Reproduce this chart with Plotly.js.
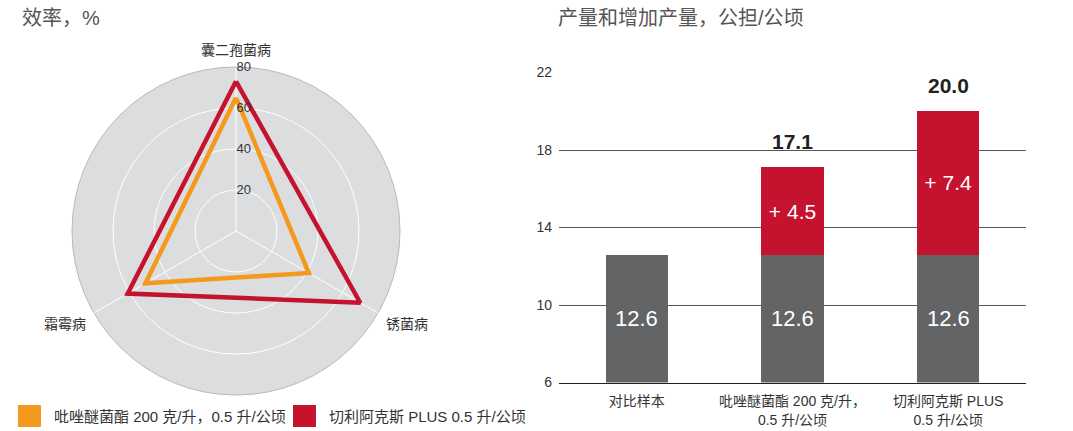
<!DOCTYPE html>
<html>
<head>
<meta charset="utf-8">
<script src="https://cdn.plot.ly/plotly-3.0.1.min.js"></script>
<style>
html,body{margin:0;padding:0;background:#fff;}
#chart{width:1073px;height:431px;}
</style>
</head>
<body>
<div id="chart"></div>
<script>
// ---- Radar data ----
const diseases = ["囊二孢菌病", "锈菌病", "霜霉病"];
const seriesNames = ["吡唑醚菌酯 200 克/升，0.5 升/公顷", "切利阿克斯 PLUS 0.5 升/公顷"];
const efficacyPyraclostrobin = [65, 41, 51];
const efficacyPlus = [73, 70, 61];
const radialTicks = [20, 40, 60, 80];

// ---- Bar data ----
const treatments = ["对比样本", "吡唑醚菌酯 200 克/升，<br>0.5 升/公顷", "切利阿克斯 PLUS<br>0.5 升/公顷"];
const baseYield = [12.6, 12.6, 12.6];
const addedYield = [null, 4.5, 7.4];
const yTicks = [6, 10, 14, 18, 22];

const FONT = "Liberation Sans, Arial, Noto Sans CJK SC, sans-serif";
const ORANGE = "#f5991e";
const RED = "#c5132f";
const GRAY = "#636466";
const yMin = 6, yMax = 22;

function closeLoop(a){ return a.concat([a[0]]); }

const traces = [
  {
    type: "scatterpolar", mode: "lines",
    r: closeLoop(efficacyPyraclostrobin), theta: closeLoop(diseases),
    line: {color: ORANGE, width: 4.5}, name: seriesNames[0], showlegend: false,
    hoverinfo: "skip"
  },
  {
    type: "scatterpolar", mode: "lines",
    r: closeLoop(efficacyPlus), theta: closeLoop(diseases),
    line: {color: RED, width: 4.5}, name: seriesNames[1], showlegend: false,
    hoverinfo: "skip"
  },
  {
    type: "bar", x: treatments, y: baseYield, marker: {color: GRAY},
    xaxis: "x", yaxis: "y", showlegend: false, hoverinfo: "skip"
  },
  {
    type: "bar", x: treatments, y: addedYield, marker: {color: RED},
    xaxis: "x", yaxis: "y", showlegend: false, hoverinfo: "skip",
    text: addedYield.map(v => v == null ? "" : "+ " + v.toFixed(1)),
    textposition: "inside", insidetextanchor: "middle", constraintext: "none",
    textfont: {color: "#ffffff", size: 21, family: FONT}
  }
];

const annotations = [
  {text: "效率，%", xref: "paper", yref: "paper", x: 20/1073, y: 1 - 18/431,
   xanchor: "left", yanchor: "middle", showarrow: false,
   font: {size: 20, color: "#555", family: FONT}},
  {text: "产量和增加产量，公担/公顷", xref: "paper", yref: "paper", x: 556/1073, y: 1 - 18/431,
   xanchor: "left", yanchor: "middle", showarrow: false,
   font: {size: 20, color: "#555", family: FONT}}
];
// base values in grey bars
treatments.forEach((t, i) => {
  annotations.push({
    text: baseYield[i].toFixed(1), x: t, y: (yMin + baseYield[i]) / 2, xref: "x", yref: "y",
    showarrow: false, font: {size: 22, color: "#ffffff", family: FONT}
  });
  if (addedYield[i] != null) {
    const total = baseYield[i] + addedYield[i];
    annotations.push({
      text: "<b>" + total.toFixed(1) + "</b>", x: t, y: total, xref: "x", yref: "y",
      yanchor: "bottom", yshift: 12, showarrow: false,
      font: {size: 21, color: "#231f20", family: FONT}
    });
  }
});

// legend (manual)
const legendColors = [ORANGE, RED];
const legendX = [18, 293];
const shapes = [];
seriesNames.forEach((n, i) => {
  shapes.push({type: "rect", xref: "paper", yref: "paper",
    x0: legendX[i]/1073, x1: (legendX[i]+23)/1073, y0: 1 - 427/431, y1: 1 - 405/431,
    fillcolor: legendColors[i], line: {width: 0}});
  annotations.push({text: n, xref: "paper", yref: "paper",
    x: (legendX[i]+34)/1073, y: 1 - 416/431, xanchor: "left", yanchor: "middle",
    showarrow: false, font: {size: 15, color: "#333", family: FONT}});
});

const layout = {
  width: 1073, height: 431, autosize: false,
  margin: {l: 0, r: 0, t: 0, b: 0},
  paper_bgcolor: "#ffffff", plot_bgcolor: "#ffffff",
  font: {family: FONT, color: "#333"},
  showlegend: false,
  polar: {
    domain: {x: [72/1073, 400/1073], y: [1 - 395/431, 1 - 67/431]},
    bgcolor: "#dcdddf",
    angularaxis: {
      direction: "clockwise", rotation: 90, categoryorder: "array", categoryarray: diseases,
      showline: true, linecolor: "#b8b9bb", linewidth: 1,
      gridcolor: "#ffffff", gridwidth: 1,
      ticks: "outside", ticklen: 6, tickcolor: "rgba(0,0,0,0)",
      tickfont: {size: 14, color: "#333", family: FONT}
    },
    radialaxis: {
      range: [0, 80], tickvals: radialTicks, angle: 90, tickangle: 90, side: "clockwise",
      showline: false, ticks: "", gridcolor: "#ffffff", gridwidth: 1,
      tickfont: {size: 13, color: "#333", family: FONT}
    }
  },
  xaxis: {
    domain: [559/1073, 1026/1073], anchor: "y",
    showline: true, linecolor: "#222", linewidth: 1, ticks: "",
    tickfont: {size: 14, color: "#333", family: FONT}, showgrid: false,
    ticklabelstandoff: 6
  },
  yaxis: {
    domain: [1 - 382.5/431, 1 - 72/431], anchor: "x",
    range: [yMin, yMax + 0.03], tickvals: yTicks, ticks: "",
    showgrid: true, gridcolor: "#555", gridwidth: 1, zeroline: false,
    tickfont: {size: 14, color: "#333", family: FONT}, ticklabelstandoff: 6
  },
  barmode: "stack", bargap: 0.6,
  annotations: annotations, shapes: shapes
};

Plotly.newPlot("chart", traces, layout, {displayModeBar: false, staticPlot: true});
</script>
</body>
</html>
